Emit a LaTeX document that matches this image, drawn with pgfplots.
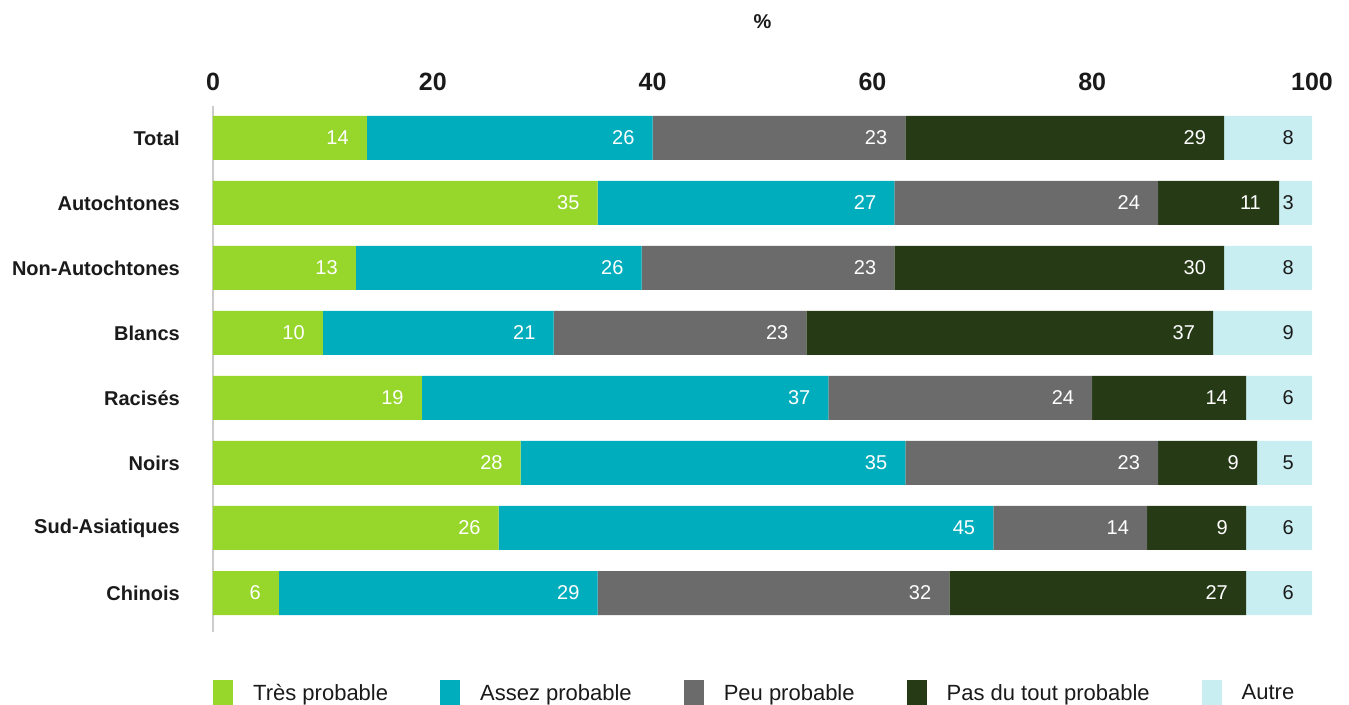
\documentclass[border=0pt]{standalone}
\usepackage{pgfplots}
\pgfplotsset{compat=1.18}
\usepackage{pgfplotstable}
\usepackage{fontspec}
\setmainfont{Liberation Sans}
\definecolor{cA}{HTML}{97D62B}
\definecolor{cB}{HTML}{00ADBD}
\definecolor{cC}{HTML}{6B6B6B}
\definecolor{cD}{HTML}{263A16}
\definecolor{cE}{HTML}{C9EEF1}
\definecolor{txt}{HTML}{1A1A1A}
\definecolor{axl}{HTML}{CCCCCC}
\pgfplotstableread{
y a b c d e
0 14 26 23 29 8
1 35 27 24 11 3
2 13 26 23 30 8
3 10 21 23 37 9
4 19 37 24 14 6
5 28 35 23 9 5
6 26 45 14 9 6
7 6 29 32 27 6
}\data
\begin{document}
\begin{tikzpicture}
\useasboundingbox (0,0) rectangle (1349pt,-704pt);
\begin{axis}[
  at={(213pt,-632pt)}, anchor=south west,
  scale only axis, width=1099pt, height=526pt,
  xbar stacked, bar width=44pt,
  xmin=0, xmax=100, ymin=-0.49, ymax=7.6, y dir=reverse,
  axis x line*=top, axis y line*=left,
  x axis line style={draw=none},
  y axis line style={draw=axl, line width=1.2pt, -},
  major tick length=0pt,
  xtick={0,20,40,60,80,100},
  /pgf/number format/assume math mode=true,
  xticklabel style={font=\fontsize{25}{28}\selectfont\bfseries, text=txt, anchor=base, yshift=16pt},
  ytick={0,...,7},
  yticklabels={Total,Autochtones,Non-Autochtones,Blancs,Racisés,Noirs,Sud-Asiatiques,Chinois},
  yticklabel style={font=\fontsize{20}{23}\selectfont\bfseries, text=txt, anchor=east, inner sep=0pt, xshift=-33pt},
  xlabel={\%},
  xlabel style={at={(axis description cs:0.5,1)}, anchor=base, yshift=78pt, font=\fontsize{20}{23}\selectfont\bfseries, text=txt},
  point meta=explicit,
  nodes near coords,
  every node near coord/.append style={font=\fontsize{20}{22}\selectfont, text=white, anchor=east, inner sep=0pt, xshift={\segval*5.495pt-18pt}},
  legend columns=-1,
  legend style={at={(0,0)}, anchor=west, yshift=-61pt, draw=none, fill=none, inner sep=0pt,
    font=\fontsize{22}{25}\selectfont, text=txt,
    /tikz/every odd column/.append style={column sep=18pt},
    /tikz/every even column/.append style={column sep=50pt}},
  legend image code/.code={\fill[#1] (0pt,-13pt) rectangle (20pt,13pt);},
]
\addplot[fill=cA, draw=none, visualization depends on={\thisrow{a} \as \segval}] table[x=a, y=y, meta=a] {\data};
\addplot[fill=cB, draw=none, visualization depends on={\thisrow{b} \as \segval}] table[x=b, y=y, meta=b] {\data};
\addplot[fill=cC, draw=none, visualization depends on={\thisrow{c} \as \segval}] table[x=c, y=y, meta=c] {\data};
\addplot[fill=cD, draw=none, visualization depends on={\thisrow{d} \as \segval}] table[x=d, y=y, meta=d] {\data};
\addplot[fill=cE, draw=none, visualization depends on={\thisrow{e} \as \segval}, every node near coord/.append style={text=txt}] table[x=e, y=y, meta=e] {\data};
\legend{Très probable, Assez probable, Peu probable, Pas du tout probable, Autre}
\end{axis}
\end{tikzpicture}
\end{document}
